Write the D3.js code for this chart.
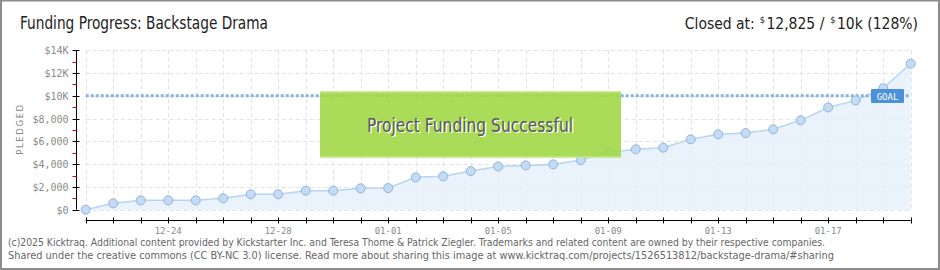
<!DOCTYPE html>
<html>
<head>
<meta charset="utf-8">
<script src="https://cdn.jsdelivr.net/npm/d3@7"></script>
<style>
  body { margin: 0; background: #fff; }
  svg { display: block; }
  .tick-label { font-family: "DejaVu Sans Mono", monospace; fill: #8a8a8a; }
</style>
</head>
<body>
<div id="chart"></div>
<script>
// Daily pledged totals, 12-21 .. 01-20
const dates = ["12-21","12-22","12-23","12-24","12-25","12-26","12-27","12-28","12-29","12-30","12-31",
  "01-01","01-02","01-03","01-04","01-05","01-06","01-07","01-08","01-09","01-10","01-11","01-12",
  "01-13","01-14","01-15","01-16","01-17","01-18","01-19","01-20"];
const pledged = [0, 560, 820, 820, 820, 1000, 1350, 1350, 1670, 1670, 1880,
  1900, 2840, 2930, 3390, 3800, 3890, 3980, 4360, 5030, 5300, 5450, 6180,
  6620, 6730, 7060, 7850, 8980, 9600, 10670, 12825];
const goal = 10000;
const yMajor = [0, 2000, 4000, 6000, 8000, 10000, 12000, 14000];
const yMinor = [1000, 3000, 5000, 7000, 9000, 11000, 13000];
const xLabels = ["12-24", "12-28", "01-01", "01-05", "01-09", "01-13", "01-17"];

const width = 940, height = 270;

const svg = d3.select('#chart')
  .append('svg')
  .attr('width', width)
  .attr('height', height);

// frame
svg.append('rect')
  .attr('x', 1).attr('y', 0.5)
  .attr('width', width - 2).attr('height', height - 1.5)
  .attr('fill', '#fff')
  .attr('stroke', '#8c8c8c')
  .attr('stroke-width', 2);

const x = d3.scaleLinear().domain([0, dates.length - 1]).range([85.7, 910.7]);
const y = d3.scaleLinear().domain([0, 14000]).range([209.7, 50.3]);

// grid
const grid = svg.append('g').attr('stroke', '#e2e2e2').attr('stroke-dasharray', '4,3');
grid.selectAll('line.h').data(yMajor).enter().append('line')
  .attr('x1', x(0)).attr('x2', x(dates.length - 1))
  .attr('y1', d => Math.round(y(d)) + 0.5).attr('y2', d => Math.round(y(d)) + 0.5);
grid.selectAll('line.v').data(dates).enter().append('line')
  .attr('x1', (d, i) => Math.round(x(i)) + 0.5).attr('x2', (d, i) => Math.round(x(i)) + 0.5)
  .attr('y1', y(14000)).attr('y2', y(0));

// area + line
const area = d3.area().x((d, i) => x(i)).y0(y(0)).y1(d => y(d));
svg.append('path').datum(pledged)
  .attr('d', area)
  .attr('fill', '#e6f0fb')
  .attr('fill-opacity', 0.85);

const line = d3.line().x((d, i) => x(i)).y(d => y(d));
svg.append('path').datum(pledged)
  .attr('d', line)
  .attr('fill', 'none')
  .attr('stroke', '#b7d5f2')
  .attr('stroke-width', 1.5);

// goal line
svg.append('line')
  .attr('x1', x(0)).attr('x2', x(dates.length - 1))
  .attr('y1', y(goal)).attr('y2', y(goal))
  .attr('stroke', '#86b2e2')
  .attr('stroke-width', 3)
  .attr('stroke-dasharray', '3,2');

// points
svg.append('g').selectAll('circle')
  .data(pledged).enter().append('circle')
  .attr('cx', (d, i) => x(i))
  .attr('cy', d => y(d))
  .attr('r', 4.5)
  .attr('fill', '#c3dbf5')
  .attr('stroke', '#93b3da')
  .attr('stroke-width', 1);

// success banner
const banner = svg.append('g');
banner.append('rect')
  .attr('x', 320).attr('y', 91.5)
  .attr('width', 301).attr('height', 66)
  .attr('fill', '#a4d84c')
  .attr('fill-opacity', 0.93);
banner.append('line').attr('x1', 320).attr('x2', 621).attr('y1', 92).attr('y2', 92)
  .attr('stroke', '#c6ea8c').attr('stroke-width', 1);
banner.append('line').attr('x1', 320).attr('x2', 621).attr('y1', 157).attr('y2', 157)
  .attr('stroke', '#c6ea8c').attr('stroke-width', 1.5);
banner.append('text')
  .attr('x', 471.5).attr('y', 133)
  .attr('text-anchor', 'middle')
  .attr('font-family', '"Liberation Sans Narrow", "DejaVu Sans Condensed", sans-serif')
  .attr('font-size', 19)
  .attr('fill', '#fff')
  .attr('textLength', 206).attr('lengthAdjust', 'spacingAndGlyphs')
  .text('Project Funding Successful');
banner.append('text')
  .attr('x', 470).attr('y', 132)
  .attr('text-anchor', 'middle')
  .attr('font-family', '"Liberation Sans Narrow", "DejaVu Sans Condensed", sans-serif')
  .attr('font-size', 19)
  .attr('fill', '#5a5a5a')
  .attr('textLength', 206).attr('lengthAdjust', 'spacingAndGlyphs')
  .text('Project Funding Successful');

// goal label
svg.append('rect')
  .attr('x', 871).attr('y', 89)
  .attr('width', 33).attr('height', 14)
  .attr('rx', 1)
  .attr('fill', '#4c90d8');
svg.append('text')
  .attr('x', 887.5).attr('y', 99.5)
  .attr('text-anchor', 'middle')
  .attr('font-family', '"DejaVu Sans Mono", monospace')
  .attr('font-size', 9)
  .attr('fill', '#fff')
  .text('GOAL');

// y axis
const yAxis = svg.append('g').attr('transform', 'translate(76.5,0)');
yAxis.append('line').attr('y1', y(14000)).attr('y2', y(0)).attr('stroke', '#000');
yAxis.selectAll('line.major').data(yMajor).enter().append('line')
  .attr('x1', -4).attr('x2', 3)
  .attr('y1', d => Math.round(y(d)) + 0.5).attr('y2', d => Math.round(y(d)) + 0.5)
  .attr('stroke', '#000');
yAxis.selectAll('line.minor').data(yMinor).enter().append('line')
  .attr('x1', -4).attr('x2', 0)
  .attr('y1', d => Math.round(y(d)) + 0.5).attr('y2', d => Math.round(y(d)) + 0.5)
  .attr('stroke', '#e00000');
yAxis.selectAll('text').data(yMajor).enter().append('text')
  .attr('class', 'tick-label')
  .attr('x', -8).attr('y', d => y(d) + 4)
  .attr('text-anchor', 'end')
  .attr('font-size', 10)
  .text(d => d >= 10000 ? '$' + d / 1000 + 'K' : '$' + d3.format(',')(d));

svg.append('text')
  .attr('transform', 'translate(23,129) rotate(-90)')
  .attr('text-anchor', 'middle')
  .attr('font-family', '"DejaVu Sans", sans-serif')
  .attr('font-size', 8.5)
  .attr('letter-spacing', 1.6)
  .attr('fill', '#8a8a8a')
  .text('PLEDGED');

// x axis
const xAxis = svg.append('g').attr('transform', 'translate(0,220.5)');
xAxis.append('line').attr('x1', x(0)).attr('x2', x(dates.length - 1)).attr('stroke', '#000');
xAxis.selectAll('line.tick').data(dates).enter().append('line')
  .attr('x1', (d, i) => Math.round(x(i)) + 0.5).attr('x2', (d, i) => Math.round(x(i)) + 0.5)
  .attr('y1', -3).attr('y2', 3)
  .attr('stroke', '#000');
xAxis.selectAll('text').data(xLabels).enter().append('text')
  .attr('class', 'tick-label')
  .attr('x', d => x(dates.indexOf(d)))
  .attr('y', 13)
  .attr('text-anchor', 'middle')
  .attr('font-size', 9)
  .text(d => d);

// header
const headFont = '"Liberation Sans Narrow", "DejaVu Sans Condensed", sans-serif';
svg.append('text')
  .attr('x', 20).attr('y', 29)
  .attr('font-family', headFont)
  .attr('font-size', 17)
  .attr('fill', '#222')
  .attr('textLength', 248).attr('lengthAdjust', 'spacingAndGlyphs')
  .text('Funding Progress: Backstage Drama');

// right header: pieces laid out one after another by their measured widths
const raised = pledged[pledged.length - 1];
const headParts = [
  { text: 'Closed at:', size: 15.5, dy: 0, gap: 5 },
  { text: '$', size: 9, dy: -6, gap: 1.5 },
  { text: d3.format(',')(raised) + ' /', size: 15.5, dy: 0, gap: 6 },
  { text: '$', size: 9, dy: -6, gap: 1.5 },
  { text: goal / 1000 + 'k (' + Math.round(raised / goal * 100) + '%)', size: 15.5, dy: 0, gap: 0 }
];
const headTexts = svg.append('g').selectAll('text').data(headParts).enter().append('text')
  .attr('y', d => 29 + d.dy)
  .attr('font-family', headFont)
  .attr('font-size', d => d.size)
  .attr('fill', '#222')
  .text(d => d.text);
let cursor = 0;
headTexts.each(function(d) {
  d.x = cursor;
  cursor += this.getComputedTextLength() + d.gap;
});
const shift = 918 - cursor;
headTexts.attr('x', d => d.x + shift);

// footer
const foot = svg.append('g')
  .attr('font-family', '"DejaVu Sans Condensed", "Liberation Sans Narrow", sans-serif')
  .attr('font-size', 10)
  .attr('fill', '#666');
foot.append('text').attr('x', 8).attr('y', 246)
  .attr('textLength', 817).attr('lengthAdjust', 'spacingAndGlyphs')
  .text('(c)2025 Kicktraq. Additional content provided by Kickstarter Inc. and Teresa Thome & Patrick Ziegler. Trademarks and related content are owned by their respective companies.');
foot.append('text').attr('x', 8).attr('y', 259)
  .attr('textLength', 826).attr('lengthAdjust', 'spacingAndGlyphs')
  .text('Shared under the creative commons (CC BY-NC 3.0) license. Read more about sharing this image at www.kicktraq.com/projects/1526513812/backstage-drama/#sharing');
</script>
</body>
</html>
